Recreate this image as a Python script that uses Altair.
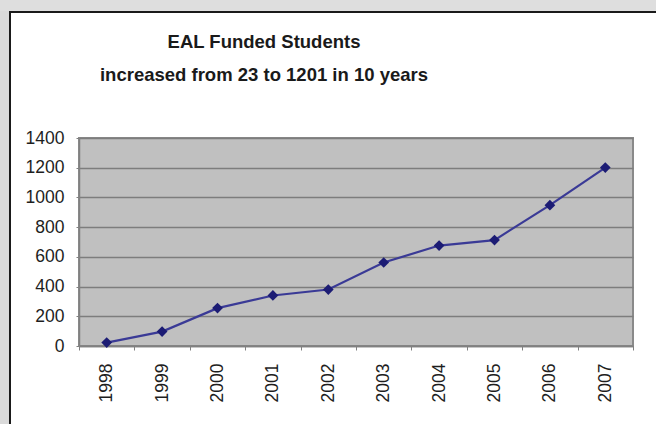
import altair as alt
import pandas as pd

years = ["1998", "1999", "2000", "2001", "2002", "2003", "2004", "2005", "2006", "2007"]
students = [23, 97, 255, 340, 380, 562, 676, 713, 948, 1201]
y_ticks = [0, 200, 400, 600, 800, 1000, 1200, 1400]
title_lines = ["EAL Funded Students", "increased from 23 to 1201 in 10 years"]

df = pd.DataFrame({"year": years, "students": students})

W, H = 554, 208
PL, PT = 79, 138
FONT = "Liberation Sans"
one = alt.Data(values=[{}])

x_enc = alt.X("year:N", sort=years, title=None,
              scale=alt.Scale(paddingInner=0, paddingOuter=0),
              axis=alt.Axis(labelAngle=-90, tickBand="extent", ticks=True, tickSize=4,
                            tickColor="#808080", domainColor="#808080", domainWidth=1.5,
                            labelPadding=13, labelFontSize=17.5, labelFont=FONT,
                            labelColor="#1e1e1e", grid=False))
y_enc = alt.Y("students:Q", title=None,
              scale=alt.Scale(domain=[0, 1400], nice=False),
              axis=alt.Axis(values=y_ticks, tickCount=8, format="d", labelOverlap=False,
                            grid=True, gridColor="#7d7d7d", gridWidth=1.3,
                            tickSize=3, tickColor="#808080", domainColor="#808080",
                            domainWidth=1.5, labelPadding=12, labelFontSize=17.5,
                            labelFont=FONT, labelColor="#1e1e1e"))

base = alt.Chart(df).encode(x=x_enc, y=y_enc)
line = base.mark_line(color="#3a3a96", strokeWidth=2.2)
pts = base.mark_point(shape="diamond", filled=True, size=115, color="#1c1c74", opacity=1)

# decorative frame (shadow strip + black border)
left_strip = alt.Chart(one).mark_rect(color="#dadada").encode(
    x=alt.value(-PL), x2=alt.value(-PL + 9), y=alt.value(-PT), y2=alt.value(H + 200))
top_strip = alt.Chart(one).mark_rect(color="#dedede").encode(
    x=alt.value(-PL), x2=alt.value(W + 200), y=alt.value(-PT), y2=alt.value(-PT + 11))
vrule = alt.Chart(one).mark_rule(color="#1a1a1a", strokeWidth=2).encode(
    x=alt.value(-PL + 10), y=alt.value(-PT + 11), y2=alt.value(H + 200))
hrule = alt.Chart(one).mark_rule(color="#1a1a1a", strokeWidth=2).encode(
    x=alt.value(-PL + 9), x2=alt.value(W + 200), y=alt.value(-PT + 12))

t1 = alt.Chart(one).mark_text(font=FONT, fontSize=18.5, fontWeight="bold", color="#1a1a1a",
                              baseline="alphabetic", align="center").encode(
    text=alt.value(title_lines[0]), x=alt.value(264 - PL), y=alt.value(48 - PT))
t2 = alt.Chart(one).mark_text(font=FONT, fontSize=18.5, fontWeight="bold", color="#1a1a1a",
                              baseline="alphabetic", align="center").encode(
    text=alt.value(title_lines[1]), x=alt.value(264 - PL), y=alt.value(81 - PT))

chart = alt.layer(left_strip, top_strip, vrule, hrule, t1, t2, line, pts).properties(
    width=W, height=H,
    autosize=alt.AutoSizeParams(type="none"),
    padding={"left": PL, "top": PT, "right": 656 - PL - W, "bottom": 424 - PT - H},
    background="white",
).configure_view(fill="#c0c0c0", stroke="#8a8a8a", strokeWidth=2)

chart.save("out.html", embed_options={"renderer": "svg", "actions": False})
